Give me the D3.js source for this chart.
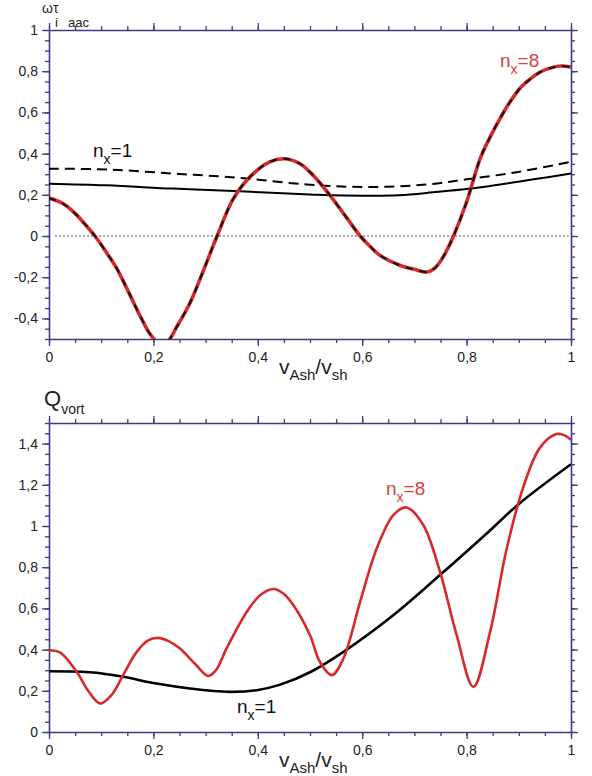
<!DOCTYPE html>
<html>
<head>
<meta charset="utf-8">
<script src="https://cdn.jsdelivr.net/npm/d3@7"></script>
<style>
body { margin: 0; background: #fff; }
svg { display: block; font-family: "Liberation Sans", Arial, sans-serif; }
</style>
</head>
<body>
<svg id="chart" width="592" height="776"></svg>
<script>
// tick labels
var xMajor = [0, 0.2, 0.4, 0.6, 0.8, 1];
var topMajor = [-0.4, -0.2, 0, 0.2, 0.4, 0.6, 0.8, 1];
var botMajor = [0, 0.2, 0.4, 0.6, 0.8, 1, 1.2, 1.4];

// top panel: omega_i tau_aac, n_x = 8 (red, black dashes on top)
var topN8X = [0, 0.025, 0.047, 0.068, 0.088, 0.11, 0.13, 0.152, 0.174, 0.192, 0.205, 0.216, 0.228, 0.245, 0.271, 0.297, 0.322,
  0.353, 0.385, 0.423, 0.452, 0.48, 0.5, 0.52, 0.538, 0.567, 0.596, 0.615, 0.634, 0.672, 0.7, 0.724, 0.737, 0.749, 0.762,
  0.775, 0.8, 0.826, 0.845, 0.864, 0.883, 0.902, 0.921, 0.941, 0.96, 0.979, 1];
var topN8Y = [0.184, 0.16, 0.117, 0.06, 0, -0.08, -0.158, -0.27, -0.385, -0.47, -0.51, -0.525, -0.51, -0.44, -0.32, -0.16, 0,
  0.18, 0.287, 0.36, 0.375, 0.352, 0.31, 0.255, 0.198, 0.1, 0, -0.05, -0.094, -0.142, -0.162, -0.175, -0.16, -0.126, -0.07,
  0, 0.165, 0.376, 0.48, 0.57, 0.65, 0.716, 0.76, 0.796, 0.815, 0.825, 0.82];

// top panel: n_x = 1 solid and dashed
var topN1X = [0, 0.11, 0.238, 0.366, 0.5, 0.542, 0.67, 0.736, 0.832, 0.928, 1];
var topN1Y = [0.254, 0.246, 0.23, 0.217, 0.202, 0.198, 0.198, 0.212, 0.238, 0.275, 0.303];
var topN1dX = [0, 0.11, 0.238, 0.366, 0.494, 0.609, 0.724, 0.8, 0.896, 1];
var topN1dY = [0.327, 0.323, 0.303, 0.282, 0.25, 0.238, 0.25, 0.275, 0.31, 0.36];

// bottom panel: Q_vort
var botN8X = [0, 0.021, 0.053, 0.075, 0.098, 0.12, 0.142, 0.168, 0.19, 0.209, 0.23, 0.251, 0.28, 0.305, 0.32, 0.34, 0.379,
  0.405, 0.43, 0.45, 0.468, 0.5, 0.519, 0.542, 0.564, 0.596, 0.628, 0.66, 0.685, 0.717, 0.749, 0.781, 0.813, 0.845, 0.877,
  0.908, 0.94, 0.972, 0.988, 1];
var botN8Y = [0.397, 0.386, 0.292, 0.2, 0.138, 0.18, 0.276, 0.389, 0.445, 0.457, 0.44, 0.405, 0.33, 0.272, 0.3, 0.405, 0.584,
  0.665, 0.694, 0.67, 0.616, 0.47, 0.34, 0.276, 0.357, 0.632, 0.892, 1.054, 1.09, 1.005, 0.778, 0.47, 0.219, 0.486, 0.892,
  1.184, 1.378, 1.446, 1.44, 1.418];
var botN1X = [0, 0.085, 0.142, 0.206, 0.27, 0.347, 0.398, 0.443, 0.5, 0.564, 0.66, 0.749, 0.839, 0.902, 1];
var botN1Y = [0.295, 0.289, 0.268, 0.235, 0.211, 0.195, 0.203, 0.23, 0.29, 0.389, 0.568, 0.762, 0.965, 1.111, 1.3];

var axisColor = "#3c3c82";
var red = "#d62a2a";

var svg = d3.select("#chart");

var x = d3.scaleLinear().domain([0, 1]).range([49, 571]);
var yTop = d3.scaleLinear().domain([-0.5, 1]).range([339, 30]);
var yBot = d3.scaleLinear().domain([0, 1.5]).range([732, 423]);

function fmt(d) { return String(+d.toFixed(1)).replace(".", ","); }

function pairs(xs, ys) { return xs.map(function(v, i) { return [v, ys[i]]; }); }

function styleAxis(sel, minor) {
  sel.select(".domain").attr("stroke", minor ? "none" : axisColor).attr("stroke-width", 1.6);
  sel.selectAll(".tick line").attr("stroke", axisColor).attr("stroke-width", 1.3);
  sel.selectAll("text").attr("fill", "#222").attr("font-size", 14).attr("font-family", "Liberation Sans, Arial, sans-serif");
}

function drawPanel(y, yMajor, id) {
  var y0 = y.range()[0], y1 = y.range()[1];

  // minor ticks on all four sides
  svg.append("g").attr("transform", "translate(0," + y0 + ")")
    .call(d3.axisBottom(x).ticks(20).tickSize(4).tickFormat("")).call(styleAxis, true);
  svg.append("g").attr("transform", "translate(0," + y1 + ")")
    .call(d3.axisTop(x).ticks(20).tickSize(4).tickFormat("")).call(styleAxis, true);
  svg.append("g").attr("transform", "translate(49,0)")
    .call(d3.axisLeft(y).ticks(30).tickSize(4).tickFormat("")).call(styleAxis, true);
  svg.append("g").attr("transform", "translate(571,0)")
    .call(d3.axisRight(y).ticks(30).tickSize(4).tickFormat("")).call(styleAxis, true);

  // major ticks and frame
  svg.append("g").attr("transform", "translate(0," + y0 + ")")
    .call(d3.axisBottom(x).tickValues(xMajor).tickSize(7).tickPadding(6).tickSizeOuter(0).tickFormat(fmt)).call(styleAxis);
  svg.append("g").attr("transform", "translate(0," + y1 + ")")
    .call(d3.axisTop(x).tickValues(xMajor).tickSize(7).tickSizeOuter(0).tickFormat("")).call(styleAxis);
  svg.append("g").attr("transform", "translate(49,0)")
    .call(d3.axisLeft(y).tickValues(yMajor).tickSize(7).tickPadding(4).tickSizeOuter(0).tickFormat(fmt)).call(styleAxis);
  svg.append("g").attr("transform", "translate(571,0)")
    .call(d3.axisRight(y).tickValues(yMajor).tickSize(7).tickSizeOuter(0).tickFormat("")).call(styleAxis);

  svg.append("clipPath").attr("id", id)
    .append("rect").attr("x", 49).attr("y", y1).attr("width", 522).attr("height", y0 - y1);

  // x title  v_Ash / v_sh
  var t = svg.append("text").attr("x", 279).attr("y", y0 + 35).attr("fill", "#222").attr("font-size", 21);
  t.append("tspan").text("v");
  t.append("tspan").attr("font-size", 15).attr("dy", 6).text("Ash");
  t.append("tspan").attr("dy", -6).text("/v");
  t.append("tspan").attr("font-size", 15).attr("dy", 6).text("sh");
}

drawPanel(yTop, topMajor, "clipTop");
drawPanel(yBot, botMajor, "clipBot");

// top panel curves
var lineTop = d3.line()
  .x(function(d) { return x(d[0]); })
  .y(function(d) { return yTop(d[1]); })
  .curve(d3.curveCatmullRom);

svg.append("line")
  .attr("x1", x(0.012)).attr("x2", x(0.995))
  .attr("y1", yTop(0)).attr("y2", yTop(0))
  .attr("stroke", "#111").attr("stroke-width", 1.2).attr("stroke-dasharray", "1.5,2.5");

var gt = svg.append("g").attr("clip-path", "url(#clipTop)").attr("fill", "none");
gt.append("path").datum(pairs(topN1X, topN1Y)).attr("d", lineTop)
  .attr("stroke", "#000").attr("stroke-width", 2);
gt.append("path").datum(pairs(topN1dX, topN1dY)).attr("d", lineTop)
  .attr("stroke", "#000").attr("stroke-width", 2).attr("stroke-dasharray", "10,6");
gt.append("path").datum(pairs(topN8X, topN8Y)).attr("d", lineTop)
  .attr("stroke", red).attr("stroke-width", 3.6);
gt.append("path").datum(pairs(topN8X, topN8Y)).attr("d", lineTop)
  .attr("stroke", "#111").attr("stroke-width", 2).attr("stroke-dasharray", "7,7");

// bottom panel curves
var lineBot = d3.line()
  .x(function(d) { return x(d[0]); })
  .y(function(d) { return yBot(d[1]); })
  .curve(d3.curveCatmullRom);

var gb = svg.append("g").attr("clip-path", "url(#clipBot)").attr("fill", "none");
gb.append("path").datum(pairs(botN1X, botN1Y)).attr("d", lineBot)
  .attr("stroke", "#000").attr("stroke-width", 2.6);
gb.append("path").datum(pairs(botN8X, botN8Y)).attr("d", lineBot)
  .attr("stroke", red).attr("stroke-width", 2.6);

// n_x labels
function nLabel(px, py, val, color) {
  var t = svg.append("text").attr("x", px).attr("y", py).attr("fill", color).attr("font-size", 19);
  t.append("tspan").text("n");
  t.append("tspan").attr("font-size", 14).attr("dy", 7).text("x");
  t.append("tspan").attr("dy", -7).text("=" + val);
}
nLabel(93, 157, 1, "#111");
nLabel(500, 67, 8, "#d8403a");
nLabel(386, 495, 8, "#d8403a");
nLabel(237, 713, 1, "#111");

// y titles
var wt = svg.append("text").attr("x", 42).attr("y", 13).attr("fill", "#222").attr("font-size", 14);
wt.append("tspan").text("\u03c9");
wt.append("tspan").attr("x", 53).text("\u03c4");
svg.append("text").attr("x", 55).attr("y", 27).attr("fill", "#222").attr("font-size", 13).text("i");
svg.append("text").attr("x", 68).attr("y", 27).attr("fill", "#222").attr("font-size", 13).text("aac");

var qt = svg.append("text").attr("x", 44).attr("y", 406).attr("fill", "#222").attr("font-size", 22);
qt.append("tspan").text("Q");
qt.append("tspan").attr("font-size", 14).attr("dy", 8).text("vort");
</script>
</body>
</html>
